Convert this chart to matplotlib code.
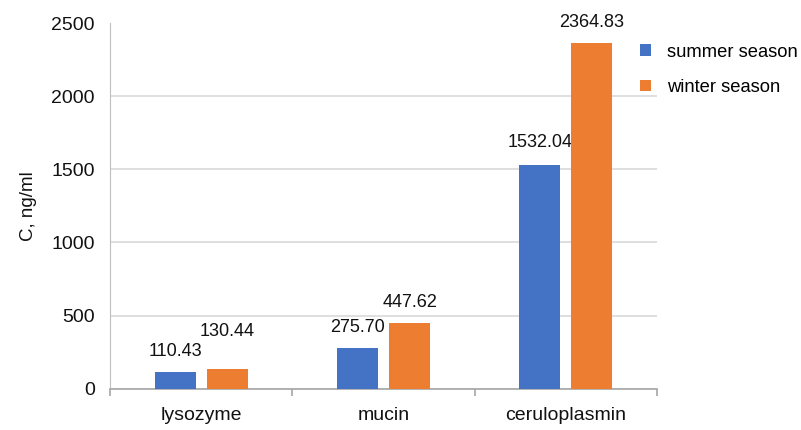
import matplotlib
matplotlib.use('Agg')
import matplotlib.pyplot as plt
import numpy as np

plt.rcParams['font.family'] = ['Liberation Sans', 'DejaVu Sans']

# data
categories = ['lysozyme', 'mucin', 'ceruloplasmin']
summer = [110.43, 275.70, 1532.04]
winter = [130.44, 447.62, 2364.83]
series_names = ['summer season', 'winter season']
colors = ['#4472C4', '#ED7D31']
yticks = [0, 500, 1000, 1500, 2000, 2500]

# label offsets above bar tops (points)
label_offsets = [[9, 9, 10], [21, 9, 9]]

fig = plt.figure(figsize=(8.01, 4.30), dpi=100)
ax = fig.add_axes([110 / 801, 1 - 388.5 / 430, 547 / 801, 365 / 430])

x = np.arange(len(categories))
w = 0.225
off = 0.143
for i, vals in enumerate([summer, winter]):
    pos = x + (off if i else -off)
    ax.bar(pos, vals, w, color=colors[i], label=series_names[i], zorder=3)
    for p, v, dy in zip(pos, vals, label_offsets[i]):
        ax.annotate('%.2f' % v, (p, v), xytext=(0, dy), textcoords='offset points',
                    ha='center', va='bottom', fontsize=13, color='#111111')

ax.set_xlim(-0.5, len(categories) - 0.5)
ax.set_ylim(0, 2500)
ax.set_yticks(yticks)
ax.tick_params(axis='y', length=0, pad=11, labelsize=14, labelcolor='#111111')
ax.yaxis.grid(True, color='#D9D9D9', linewidth=1.2, zorder=0)

# category ticks on boundaries, labels in middle
ax.set_xticks(np.arange(len(categories) + 1) - 0.5)
ax.set_xticklabels([])
ax.set_xticks(x, minor=True)
ax.set_xticklabels(categories, minor=True)
ax.tick_params(axis='x', which='major', length=5, width=1.2, color='#A6A6A6')
ax.tick_params(axis='x', which='minor', length=0, pad=13, labelsize=14, labelcolor='#111111')

for s in ['top', 'right']:
    ax.spines[s].set_visible(False)
ax.spines['left'].set_color('#BFBFBF')
ax.spines['bottom'].set_color('#A6A6A6')
ax.spines['bottom'].set_linewidth(1.2)

ax.set_ylabel('C, ng/ml', fontsize=13.5, color='#111111', labelpad=10)

ax.legend(loc='upper left', bbox_to_anchor=(0.955, 0.965), frameon=False, fontsize=13.2,
          handlelength=0.62, handleheight=0.62, handletextpad=0.85, labelspacing=1.0,
          borderaxespad=0)

fig.savefig('out.png', dpi=100)
